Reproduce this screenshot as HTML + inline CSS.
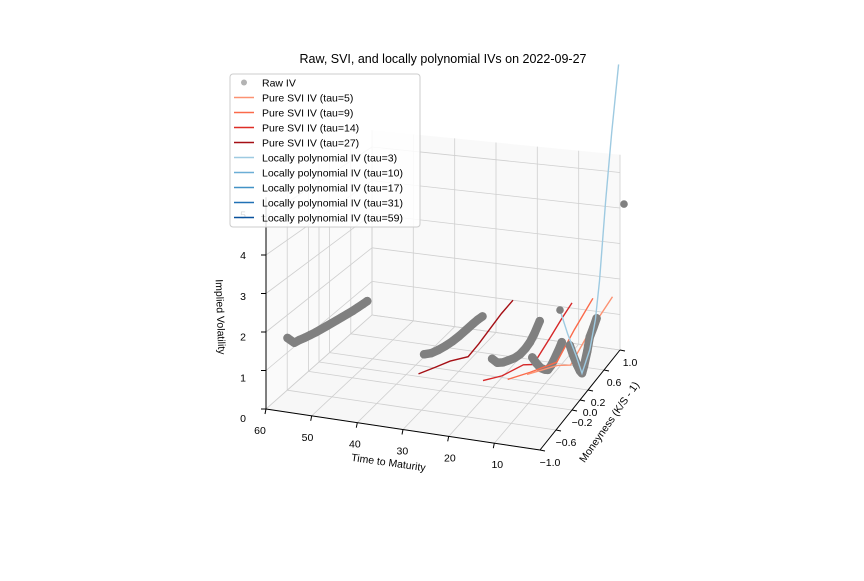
<!DOCTYPE html>
<html><head><meta charset="utf-8"><style>
body{margin:0;background:#fff}
svg text{font-family:"Liberation Sans","DejaVu Sans",sans-serif}
</style></head><body>
<svg id="chart" width="864" height="576" viewBox="0 0 864 576" xmlns="http://www.w3.org/2000/svg">
<rect width="864" height="576" fill="#fff"/>
<text x="443" y="63" text-anchor="middle" font-size="12.5">Raw, SVI, and locally polynomial IVs on 2022-09-27</text>
<g id="panes"></g><g id="grid"></g><g id="axes"></g><g id="series"></g>
<text transform="translate(217,317) rotate(88)" text-anchor="middle" font-size="10.5">Implied Volatility</text>
<text transform="translate(388,466) rotate(8)" text-anchor="middle" font-size="10.5">Time to Maturity</text>
<text transform="translate(612,424) rotate(-55)" text-anchor="middle" font-size="10.5">Moneyness (K/S - 1)</text>
<g id="legend"></g>
</svg>
<script>
const tauTicks=[10,20,30,40,50,60];
const mTicks=[-1.0,-0.6,-0.2,0.0,0.2,0.6,1.0];
const mTickLabels=["\u22121.0","\u22120.6","\u22120.2","0.0","0.2","0.6","1.0"];
const zTicks=[0,1,2,3,4,5];
const raw59_m=[-0.68,-0.55,-0.45,-0.35,-0.25,-0.15,-0.05,0.05,0.15,0.25,0.35,0.45,0.55,0.65,0.75,0.83];
const raw59_iv=[1.5,1.22,1.18,1.12,1.07,1.02,0.98,0.94,0.9,0.86,0.82,0.78,0.74,0.71,0.68,0.66];
const raw31_m=[-0.45,-0.3,-0.15,0,0.15,0.3,0.45,0.6,0.7,0.8];
const raw31_iv=[1.25,1.1,1.0,0.92,0.86,0.82,0.8,0.78,0.76,0.72];
const raw17_m=[-0.32,-0.2,-0.07,0.05,0.2,0.32,0.45,0.55,0.65,0.77];
const raw17_iv=[1.2,0.95,0.8,0.7,0.58,0.52,0.52,0.56,0.66,0.85];
const raw10_m=[-0.1,0,0.1,0.2,0.27,0.35,0.45,0.55,0.6];
const raw10_iv=[1.08,0.8,0.55,0.38,0.28,0.3,0.4,0.52,0.6];
const raw3_m=[0.07,0.15,0.25,0.32,0.37,0.42,0.5,0.56,0.65,0.73];
const raw3_iv=[1.3,0.95,0.55,0.3,0.17,0.3,0.6,0.9,1.05,1.2];
const rawIso_tau=[3,0];
const rawIso_m=[-0.17,1.1];
const rawIso_iv=[2.5,4.0];
const svi5_m=[-0.76,-0.02,0.3,0.78,1.32], svi5_iv=[1.5,0.85,0.45,0.77,1.0];
const svi9_m=[-0.79,-0.26,0.38,0.8,1.24], svi9_iv=[1.35,0.9,0.36,0.7,1.0];
const svi14_m=[-0.84,-0.4,0.1,0.33,0.72,1.0,1.23], svi14_iv=[1.3,0.9,0.57,0.28,0.5,0.68,0.8];
const svi27_m=[-0.96,-0.6,-0.27,0.12,0.35,0.6,0.85,1.1], svi27_iv=[1.4,1.15,0.92,0.55,0.6,0.7,0.8,0.85];
const lp3_m=[-0.17,0.02,0.22,0.37,0.56,0.7,0.8,0.95,1.1,1.27], lp3_iv=[2.5,1.65,0.85,0.17,0.55,1.2,2.15,4.2,6.0,7.8];
const lp10_m=[-0.1,0.1,0.27,0.45,0.62], lp10_iv=[1.08,0.55,0.28,0.4,0.64];
const lp17_m=[-0.35,-0.07,0.32,0.6,0.8], lp17_iv=[1.25,0.8,0.52,0.62,0.9];
const lp31_m=[-0.5,-0.15,0.3,0.6,0.85], lp31_iv=[1.3,1.0,0.82,0.78,0.72];
const lp59_m=[-0.7,-0.55,-0.3,0,0.4,0.85], lp59_iv=[1.55,1.22,1.1,0.92,0.8,0.66];

const NS="http://www.w3.org/2000/svg";
const A=[266,409],C=[540,450],D=[620,350],E=[372,315];
const sA=38.5,sC=41,sD=35.5,sE=33.6,ZMAX=5.5;
function proj(tau,m,z){
  const u=(60-tau)/60,v=(m+1)/2;
  const w00=(1-u)*(1-v),w10=u*(1-v),w11=u*v,w01=(1-u)*v;
  const x=w00*A[0]+w10*C[0]+w11*D[0]+w01*E[0];
  const y=w00*A[1]+w10*C[1]+w11*D[1]+w01*E[1];
  const s=w00*sA+w10*sC+w11*sD+w01*sE;
  return [x,y-z*s];
}
function mk(tag,attrs,parent){const e=document.createElementNS(NS,tag);for(const k in attrs)e.setAttribute(k,attrs[k]);parent.appendChild(e);return e;}
function ptsStr(arr){return arr.map(p=>p[0].toFixed(1)+','+p[1].toFixed(1)).join(' ');}
const panes=document.getElementById('panes'),grid=document.getElementById('grid'),axes=document.getElementById('axes'),series=document.getElementById('series');
let p=mk('polygon',{points:ptsStr([proj(60,-1,0),proj(0,-1,0),proj(0,1,0),proj(60,1,0)]),fill:'#f2f2f2','fill-opacity':'0.6'},panes);

p=mk('polygon',{points:ptsStr([proj(60,-1,0),proj(60,1,0),proj(60,1,ZMAX),proj(60,-1,ZMAX)]),fill:'#f7f7f7','fill-opacity':'0.6'},panes);

p=mk('polygon',{points:ptsStr([proj(60,1,0),proj(0,1,0),proj(0,1,ZMAX),proj(60,1,ZMAX)]),fill:'#f5f5f5','fill-opacity':'0.6'},panes);

function gl(a,b,name){const l=mk('polyline',{points:ptsStr([a,b]),stroke:'#cfcfcf','stroke-width':0.8,fill:'none'},grid);}
tauTicks.concat([0]).forEach(t=>{gl(proj(t,-1,0),proj(t,1,0),'floor-grid-tau');gl(proj(t,1,0),proj(t,1,ZMAX),'back-grid-tau');});
mTicks.forEach(m=>{gl(proj(60,m,0),proj(0,m,0),'floor-grid-m');gl(proj(60,m,0),proj(60,m,ZMAX),'left-grid-m');});
zTicks.forEach(z=>{gl(proj(60,-1,z),proj(60,1,z),'left-grid-z');gl(proj(60,1,z),proj(0,1,z),'back-grid-z');});
function al(a,b,name){const l=mk('polyline',{points:ptsStr([a,b]),stroke:'#000','stroke-width':1,fill:'none'},axes);}
al(proj(60,-1,0),proj(0,-1,0),'x-axis-line');
al(proj(0,-1,0),proj(0,1,0),'y-axis-line');
al(proj(60,-1,0),proj(60,-1,ZMAX),'z-axis-line');
function tx(x,y,s,name){const t=mk('text',{x:x.toFixed(1),y:y.toFixed(1),'text-anchor':'middle','font-size':'10.5'},axes);t.textContent=s;}
tauTicks.forEach(t=>{const q=proj(t,-1,0);const u=(60-t)/60;al(q,[q[0]-1,q[1]+5],'x-tick');tx(q[0]-6+10.8*u,q[1]+25,String(t),'x-tick-label');});
mTicks.forEach((m,i)=>{const q=proj(0,m,0);al(q,[q[0]+5,q[1]+1],'y-tick');tx(q[0]+10,q[1]+16,mTickLabels[i],'y-tick-label');});
zTicks.forEach(z=>{const q=proj(60,-1,z);al(q,[q[0]-5,q[1]],'z-tick');tx(q[0]-23,q[1]+13-z*2.2,String(z),'z-tick-label');});
function line(tau,ms,ivs,color,name){const pts=ms.map((m,i)=>proj(tau,m,ivs[i]));const l=mk('polyline',{points:ptsStr(pts),stroke:color,'stroke-width':1.4,fill:'none'},series);}
function raw(tau,ms,ivs,name){
  const pts=ms.map((m,i)=>proj(tau,m,ivs[i]));
  const g=mk('g',{},series);
  mk('polyline',{points:ptsStr(pts),stroke:'#808080','stroke-width':8.5,'stroke-linecap':'round','stroke-linejoin':'round',fill:'none'},g);
  pts.forEach(q=>{const c=mk('circle',{cx:q[0].toFixed(1),cy:q[1].toFixed(1),r:4.2,fill:'#808080'},g);});
}
line(59,lp59_m,lp59_iv,'#08519c','lp-line-tau59');
raw(59,raw59_m,raw59_iv,'raw-iv-tau59');
line(31,lp31_m,lp31_iv,'#2171b5','lp-line-tau31');
raw(31,raw31_m,raw31_iv,'raw-iv-tau31');
line(27,svi27_m,svi27_iv,'#a50f15','svi-line-tau27');
line(17,lp17_m,lp17_iv,'#4292c6','lp-line-tau17');
raw(17,raw17_m,raw17_iv,'raw-iv-tau17');
line(14,svi14_m,svi14_iv,'#d62728','svi-line-tau14');
line(10,lp10_m,lp10_iv,'#6baed6','lp-line-tau10');
raw(10,raw10_m,raw10_iv,'raw-iv-tau10');
line(9,svi9_m,svi9_iv,'#fb6a4a','svi-line-tau9');
line(5,svi5_m,svi5_iv,'#fc9272','svi-line-tau5');
raw(3,raw3_m,raw3_iv,'raw-iv-tau3');
line(3,lp3_m,lp3_iv,'#9ecae1','lp-line-tau3');
rawIso_m.forEach((m,i)=>{const q=proj(rawIso_tau[i],m,rawIso_iv[i]);const c=mk('circle',{cx:q[0].toFixed(1),cy:q[1].toFixed(1),r:3.8,fill:'#808080'},series);});
const legLabels=["Raw IV","Pure SVI IV (tau=5)","Pure SVI IV (tau=9)","Pure SVI IV (tau=14)","Pure SVI IV (tau=27)","Locally polynomial IV (tau=3)","Locally polynomial IV (tau=10)","Locally polynomial IV (tau=17)","Locally polynomial IV (tau=31)","Locally polynomial IV (tau=59)"];
const legColors=["#808080","#fc9272","#fb6a4a","#de2d26","#a50f15","#9ecae1","#6baed6","#4292c6","#2171b5","#08519c"];
const leg=document.getElementById('legend');
mk('rect',{x:230,y:74,width:190,height:153,rx:3,fill:'#fff','fill-opacity':0.85,stroke:'#ccc','stroke-width':1},leg);
legLabels.forEach((s,i)=>{
  const y=82.5+i*15;
  const g=mk('g',{},leg);
  if(i===0) mk('circle',{cx:244,cy:y,r:3,fill:'#808080','fill-opacity':0.6},g);
  else mk('line',{x1:234,y1:y,x2:254,y2:y,stroke:legColors[i],'stroke-width':1.6},g);
  const t=mk('text',{x:262,y:y+4,'font-size':'10.5'},g);t.textContent=s;
});
</script>
</body></html>
